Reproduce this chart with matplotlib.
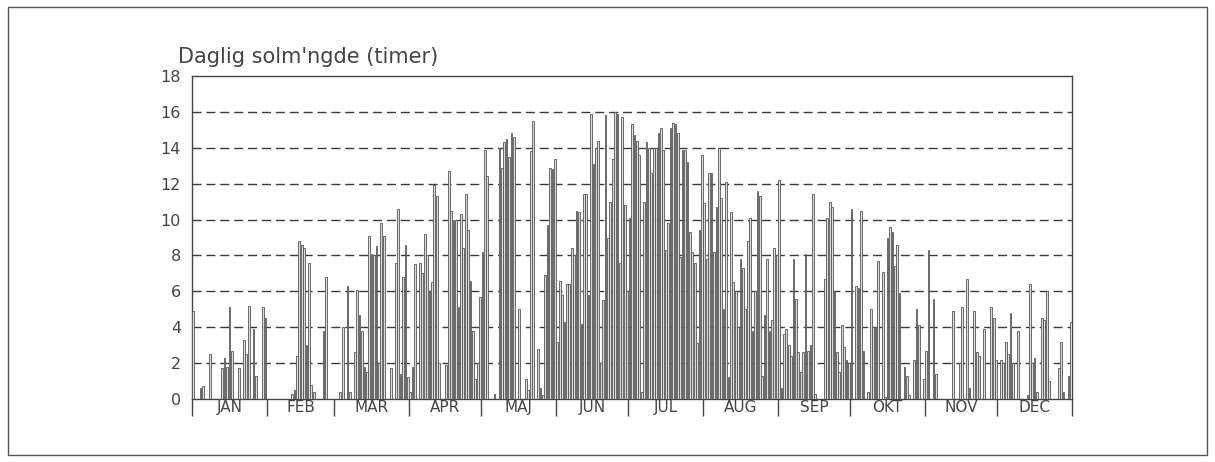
import matplotlib
matplotlib.use("Agg")
import matplotlib.pyplot as plt
import numpy as np
from matplotlib.patches import Rectangle

# ---- data (hours of sunshine per day) ----
months = ["JAN", "FEB", "MAR", "APR", "MAJ", "JUN", "JUL", "AUG", "SEP", "OKT", "NOV", "DEC"]

jan = [4.9,0,0,0.6,0.7,0,0,2.5,0,0,0,0,1.7,2.3,1.8,5.1,2.7,0,0,1.7,0,3.3,2.5,5.2,0,3.9,1.3,0,0,5.1,4.5]
feb = [0,0,0,0,0,0,0,0,0,0,0.3,0.5,2.4,8.8,8.6,8.4,3.0,7.6,0.8,0.4,0,0,0,3.8,6.8,0,0,0]
mar = [0,0,0.4,4.0,0,6.3,0.4,0,2.6,6.1,4.7,3.8,1.8,1.5,9.1,8.1,8.0,8.5,2.0,9.8,9.1,0,0,1.7,0,7.6,10.6,1.4,6.8,8.6,1.2]
apr = [0.4,1.8,7.5,0,7.6,7.0,9.2,8.0,6.0,6.5,11.9,11.3,2.0,0,0,1.9,12.7,10.5,10.0,10.0,5.1,10.3,8.4,11.4,9.4,6.6,3.8,1.1,2.0,5.7]
maj = [8.2,13.9,12.4,0,0,0.3,0,14.0,12.9,14.3,14.5,13.5,14.8,14.6,0,5.0,0,0,1.1,0.5,13.8,15.5,0,2.8,0.6,0.2,6.9,9.7,12.9,12.8,13.4]
jun = [3.2,6.6,5.8,4.3,6.4,6.4,8.4,8.0,10.5,10.4,4.2,11.4,11.4,5.8,15.9,13.1,14.0,14.4,2.0,5.5,15.8,9.0,11.0,13.4,16.0,15.9,7.6,15.7,10.8,6.0]
jul = [10.1,15.3,14.7,14.4,13.6,0.4,11.0,14.3,14.0,12.6,14.0,14.0,14.8,15.1,13.9,8.3,9.8,15.1,15.4,15.3,14.8,7.9,13.9,13.9,13.2,9.3,8.2,7.6,3.1,9.4,13.6]
aug = [10.9,7.8,12.6,12.6,8.2,10.7,14.0,11.2,5.0,12.1,1.2,10.4,6.5,6.0,4.0,7.8,7.3,5.0,8.8,10.1,3.8,6.0,11.6,11.3,1.3,4.7,7.8,3.8,4.4,8.4,8.0]
sep = [12.2,0.6,3.6,3.9,3.0,2.4,7.8,5.6,2.6,1.5,2.6,8.1,2.7,3.0,11.4,0.3,0,0,0,6.7,10.1,11.0,10.7,6.0,2.6,1.5,4.1,2.9,2.2,2.0]
okt = [10.6,0,6.3,6.2,10.5,2.7,0,0.4,5.0,4.0,4.0,7.7,0,7.1,0.1,9.0,9.6,9.3,7.4,8.6,5.9,0,1.8,1.3,0.2,0,2.2,5.0,4.1,0,1.1]
nov = [2.7,8.3,0,5.6,1.4,0,0,0,0,0,0,4.9,0,0,2.0,5.1,0,6.7,0.6,0,4.9,2.6,2.4,0,3.9,0,0,5.1,4.5,2.2]
dec = [0,2.2,2.0,3.2,2.5,4.8,2.0,0,3.8,0,0,0,0.2,6.4,2.0,2.3,0.4,0,4.5,4.4,6.0,1.0,0,0,0,1.7,3.2,0.4,0,1.3,4.3]

title = "Daglig solm'ngde (timer)"
yticks = [0, 2, 4, 6, 8, 10, 12, 14, 16, 18]

month_data = [jan, feb, mar, apr, maj, jun, jul, aug, sep, okt, nov, dec]
values = np.concatenate([np.array(m, dtype=float) for m in month_data])
days = np.arange(len(values))
month_len = np.array([len(m) for m in month_data])
bounds = np.concatenate([[0], np.cumsum(month_len)]) - 0.5
centers = (bounds[:-1] + bounds[1:]) / 2

# ---- figure ----
W, H = 1215, 462
fig = plt.figure(figsize=(W / 100, H / 100), dpi=100)
fig.patch.set_facecolor("white")

# outer frame of the figure
fig.patches.append(Rectangle((8 / W, 7 / H), (1207 - 8) / W, (455 - 7) / H,
                             transform=fig.transFigure, fill=False,
                             edgecolor="#555555", linewidth=1.0))

ax = fig.add_axes([192 / W, 1 - 399 / H, (1072 - 192) / W, (399 - 76) / H])

ax.bar(days, values, width=0.72, color="#dcdcdc", edgecolor="#555555",
       linewidth=0.6, zorder=3)

ax.set_xlim(bounds[0], bounds[-1])
ax.set_ylim(0, 18)

# horizontal dashed grid
for y in yticks[1:-1]:
    ax.axhline(y, color="#3a3a3a", linewidth=1.0, linestyle=(0, (6.5, 3.5)), zorder=1)

for s in ax.spines.values():
    s.set_color("#444444")
    s.set_linewidth(1.0)

ax.set_yticks(yticks)
ax.set_yticklabels([str(v) for v in yticks], fontsize=11.5, color="#444444")
ax.tick_params(axis="y", length=0, pad=8)

# month boundary ticks + centered labels
ax.set_xticks(bounds)
ax.set_xticklabels([])
ax.tick_params(axis="x", which="major", direction="out", length=12, width=1.0, color="#444444")
ax.set_xticks(centers, minor=True)
ax.set_xticklabels(months, minor=True, fontsize=11, color="#444444")
ax.tick_params(axis="x", which="minor", length=0, pad=1)

fig.text(178 / W, 1 - 57 / H, title, fontsize=15, color="#444444",
         ha="left", va="center")

fig.savefig("out.png", dpi=100)
